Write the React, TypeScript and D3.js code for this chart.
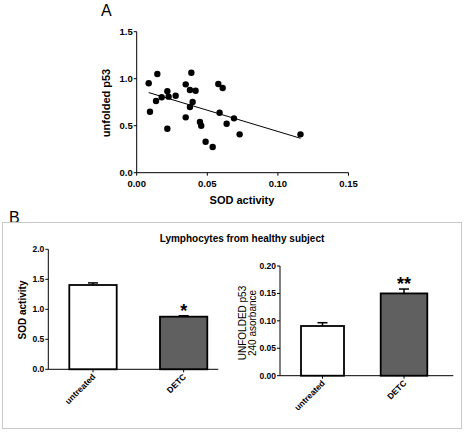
import React from "react";
import * as d3 from "d3";

// ---------- Data ----------
const sodActivity = [0.0085, 0.0094, 0.0146, 0.0137, 0.0177, 0.0217, 0.0226, 0.0217, 0.0276, 0.0347, 0.0347, 0.0387, 0.0377, 0.0417, 0.0396, 0.0377, 0.0448, 0.0457, 0.0488, 0.0538, 0.0578, 0.0609, 0.0587, 0.0637, 0.0689, 0.0729, 0.116];
const unfoldedP53 = [0.951, 0.649, 1.05, 0.763, 0.802, 0.866, 0.809, 0.468, 0.819, 0.94, 0.589, 1.064, 0.88, 0.872, 0.752, 0.699, 0.539, 0.5, 0.33, 0.273, 0.944, 0.901, 0.638, 0.521, 0.578, 0.408, 0.408];
const scatterXTicks = [0, 0.05, 0.1, 0.15];
const scatterYTicks = [0, 0.5, 1.0, 1.5];

const groups = ["untreated", "DETC"];
const sodMeans = [1.405, 0.877];
const sodErr = [0.035, 0.016];
const sodTicks = [0, 0.5, 1.0, 1.5, 2.0];
const p53Means = [0.0906, 0.150];
const p53Err = [0.006, 0.008];
const p53Ticks = [0, 0.05, 0.1, 0.15, 0.2];
const sigMarks = ["*", "**"];
const barFills = ["#ffffff", "#606060"];

const FONT = "'Liberation Sans', Arial, sans-serif";

function BarPanel({ x0, x1, yTop, yBot, barL, barR, means, errs, ticks, domainMax, fmt, sig, yLabel }: any) {
  const y = d3.scaleLinear().domain([0, domainMax]).range([yBot, yTop]);
  const cx = barL.map((l: number, i: number) => (l + barR[i]) / 2);
  return (
    <g>
      {groups.map((g, i) => (
        <g key={g}>
          <line x1={cx[i]} x2={cx[i]} y1={y(means[i])} y2={y(means[i] + errs[i])} stroke="#000" strokeWidth={1.5} />
          <line x1={cx[i] - 5} x2={cx[i] + 5} y1={y(means[i] + errs[i])} y2={y(means[i] + errs[i])} stroke="#000" strokeWidth={1.5} />
          <rect x={barL[i]} y={y(means[i])} width={barR[i] - barL[i]} height={yBot - y(means[i])} fill={barFills[i]} stroke="#000" strokeWidth={1.8} />
          <line x1={cx[i]} x2={cx[i]} y1={yBot} y2={yBot + 3} stroke="#000" strokeWidth={1} />
          <text transform={`translate(${cx[i] + 3},${yBot + 8}) rotate(-45)`} textAnchor="end" fontSize={8.5} fontWeight="bold" fontFamily={FONT}>{g}</text>
        </g>
      ))}
      <text x={cx[1]} y={y(means[1] + errs[1]) + 1} textAnchor="middle" fontSize={18} fontWeight="bold" fontFamily={FONT}>{sig}</text>
      <line x1={x0} x2={x0} y1={yTop} y2={yBot} stroke="#000" strokeWidth={1} />
      <line x1={x0} x2={x1} y1={yBot} y2={yBot} stroke="#000" strokeWidth={1} />
      {ticks.map((t: number) => (
        <g key={t}>
          <line x1={x0 - 3} x2={x0} y1={y(t)} y2={y(t)} stroke="#000" strokeWidth={1} />
          <text x={x0 - 4} y={y(t) + 3} textAnchor="end" fontSize={8.5} fontWeight="bold" fontFamily={FONT}>{fmt(t)}</text>
        </g>
      ))}
      {yLabel}
    </g>
  );
}

export default function App() {
  // Scatter
  const xs = d3.scaleLinear().domain([0, 0.15]).range([136.7, 348.5]);
  const ys = d3.scaleLinear().domain([0, 1.5]).range([172.7, 31.7]);
  const mx = d3.mean(sodActivity)!;
  const my = d3.mean(unfoldedP53)!;
  let sxy = 0, sxx = 0;
  sodActivity.forEach((v, i) => { sxy += (v - mx) * (unfoldedP53[i] - my); sxx += (v - mx) ** 2; });
  const slope = sxy / sxx;
  const icpt = my - slope * mx;
  const [xmin, xmax] = d3.extent(sodActivity) as [number, number];
  const line = d3.line<number>().x((d) => xs(d)).y((d) => ys(icpt + slope * d));

  return (
    <svg width={465} height={433} style={{ position: "absolute", left: 0, top: 0, background: "#fff" }} fontFamily={FONT}>
      <rect width={465} height={433} fill="#fff" />
      {/* Panel A */}
      <text x={101} y={16} fontSize={16} fontFamily={FONT}>A</text>
      <line x1={xs(0)} x2={xs(0)} y1={ys(1.5)} y2={ys(0)} stroke="#000" />
      <line x1={xs(0)} x2={xs(0.15)} y1={ys(0)} y2={ys(0)} stroke="#000" />
      {scatterYTicks.map((t) => (
        <g key={t}>
          <line x1={xs(0) - 3} x2={xs(0)} y1={ys(t)} y2={ys(t)} stroke="#000" />
          <text x={xs(0) - 4} y={ys(t) + 3.5} textAnchor="end" fontSize={9.5} fontWeight="bold">{t.toFixed(1)}</text>
        </g>
      ))}
      {scatterXTicks.map((t) => (
        <g key={t}>
          <line x1={xs(t)} x2={xs(t)} y1={ys(0)} y2={ys(0) + 3} stroke="#000" />
          <text x={xs(t)} y={ys(0) + 14} textAnchor="middle" fontSize={9.5} fontWeight="bold">{t.toFixed(2)}</text>
        </g>
      ))}
      <text transform={`translate(110,103) rotate(-90)`} textAnchor="middle" fontSize={11} fontWeight="bold">unfolded p53</text>
      <text x={242} y={204} textAnchor="middle" fontSize={11} fontWeight="bold">SOD activity</text>
      <path d={line([xmin, xmax]) || ""} fill="none" stroke="#000" strokeWidth={1} />
      {sodActivity.map((v, i) => (
        <circle key={i} cx={xs(v)} cy={ys(unfoldedP53[i])} r={3.2} fill="#000" />
      ))}

      {/* Panel B */}
      <text x={9} y={223} fontSize={16}>B</text>
      <rect x={2.5} y={222.5} width={459} height={206} fill="none" stroke="#c8c8c8" strokeWidth={1} />
      <text x={242} y={241.5} textAnchor="middle" fontSize={10} fontWeight="bold">Lymphocytes from healthy subject</text>

      <BarPanel x0={48.3} x1={218.3} yTop={249.3} yBot={369.3} barL={[69.3, 160]} barR={[116.7, 207.3]}
        means={sodMeans} errs={sodErr} ticks={sodTicks} domainMax={2.0} fmt={(t: number) => t.toFixed(1)} sig={sigMarks[0]}
        yLabel={<text transform="translate(26,310) rotate(-90)" textAnchor="middle" fontSize={10} fontWeight="bold">SOD activity</text>} />

      <BarPanel x0={280} x1={453.3} yTop={266} yBot={375.7} barL={[301, 380.7]} barR={[344, 427.3]}
        means={p53Means} errs={p53Err} ticks={p53Ticks} domainMax={0.2} fmt={(t: number) => t.toFixed(2)} sig={sigMarks[1]}
        yLabel={<text transform="translate(246,323) rotate(-90)" textAnchor="middle" fontSize={10}>
          <tspan x={0} dy={0}>UNFOLDED p53</tspan>
          <tspan x={0} dy={10}>240 asorbance</tspan>
        </text>} />
    </svg>
  );
}
